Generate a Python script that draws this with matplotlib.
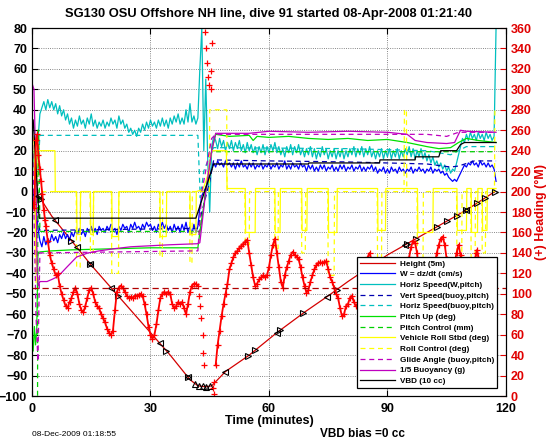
import numpy as np
import matplotlib
matplotlib.use("Agg")
import matplotlib.pyplot as plt

plt.rcParams['font.family'] = ['Liberation Sans', 'DejaVu Sans']

# ---- data (left axis units unless noted) ----
# depth / 5 m
depth_t = [0, 1, 2, 5, 10, 15, 20, 25, 30, 35, 40, 42, 44, 45.5, 47, 49, 55, 62, 69, 75, 80, 90, 100, 110, 117.2]
depth_v = [0, -1, -3, -12, -24, -36, -47, -58, -69, -80, -92, -95, -95.5, -95, -92, -88, -80, -69, -59, -51, -44, -31, -20, -9, 0]
tri_left_t = [1.5, 5.8, 11.3, 14.7, 20.0, 32.4, 39.5, 48.9, 62.0, 74.7, 94.5, 110.0]
tri_right_t = [2.2, 10.0, 14.7, 21.8, 34.0, 39.5, 54.7, 56.5, 62.8, 68.6, 77.2, 95.0, 97.2,
               102.5, 105.0, 107.5, 110.0, 112.7, 114.7, 117.2]
tri_up_t = [41.3, 42.3, 43.2, 44.0, 45.0]

# W = dz/dt, sampled every 0.5 min
w_dive = [0, -2, -6, -18,
          -24, -27, -22, -26, -23, -25, -21, -24, -22, -25, -21, -23, -20, -23, -21, -24, -20,
          -22, -19, -21, -18, -21, -19, -22, -18, -20, -17, -20, -18, -21, -17, -19, -18, -20,
          -17, -19, -16, -19, -18, -21, -17, -19, -16, -18, -17, -20, -16, -18, -15, -18, -17,
          -19, -16, -18, -15, -17, -16, -19, -17, -20, -16, -18, -15, -18, -16, -19, -17, -20,
          -16, -19, -17, -20, -16, -19, -15, -20, -17, -21, -16, -20, -17]
w_climb = [-8, -2, 0, 2, 5, 8, 12, 14,
           12, 15, 13, 14, 12, 15, 13, 14, 12, 14, 11, 14, 12, 15, 12, 13, 11, 14, 12, 14,
           11, 13, 12, 14, 11, 13, 12, 14, 11, 13, 12, 14, 11, 13, 12, 15, 11, 13, 11, 14,
           12, 13, 11, 14, 12, 13, 10, 13, 11, 13, 10, 12, 10, 13, 11, 13, 10, 12, 11, 13,
           10, 12, 10, 13, 11, 13, 10, 12, 11, 13, 10, 12, 11, 13, 10, 12, 10, 12, 11, 13,
           10, 12, 9, 11, 10, 12, 9, 11, 9, 12, 10, 11, 9, 12, 10, 11, 9, 11, 10, 12,
           9, 11, 10, 12, 10, 11, 9, 11, 10, 12, 9, 11, 10, 11, 9, 10, 8, 9, 7, 6,
           5, 6, 5, 7, 9, 11, 13, 12, 14, 13, 15, 13, 14, 12, 15, 13, 14, 12, 14, 12,
           13, 11, 5]

# horizontal speed from W and pitch, every 0.5 min
hs_dive = [5, 20, 8, 25, 38, 41, 44, 40, 45, 41, 44, 40, 43, 38, 42, 37, 40, 35, 38, 33,
           36, 31, 35, 32, 37, 33, 35, 31, 36, 33, 38, 32, 35, 31, 34, 32, 35, 31, 34, 32,
           36, 33, 35, 31, 37, 33, 35, 31, 33, 29, 31, 28, 30, 27, 31, 29, 33, 30, 34, 31,
           35, 32, 34, 31, 35, 32, 36, 32, 35, 31, 36, 33, 37, 34, 38, 33, 36, 33, 40, 34,
           43, 34, 37, 33, 36]
hs_climb = [60, 80, 20, 55, 15, -10, 22, 27,
            25, 21, 26, 22, 25, 20, 24, 21, 25, 20, 24, 21, 25, 20, 23, 19, 24, 20, 23, 19,
            22, 18, 22, 19, 23, 18, 22, 19, 23, 20, 24, 19, 22, 18, 21, 17, 22, 19, 23, 18,
            22, 19, 23, 18, 21, 17, 21, 18, 22, 17, 21, 16, 20, 17, 22, 18, 21, 16, 20, 17,
            21, 16, 20, 17, 21, 16, 20, 17, 21, 18, 22, 17, 21, 18, 22, 17, 21, 18, 22, 17,
            20, 16, 20, 17, 21, 16, 20, 17, 21, 16, 20, 17, 21, 16, 20, 17, 21, 18, 22, 17,
            21, 16, 20, 17, 21, 16, 19, 15, 18, 14, 17, 13, 15, 12, 14, 11, 13, 10, 12, 9,
            11, 10, 14, 18, 22, 26, 24, 28, 25, 29, 26, 28, 25, 29, 26, 28, 25, 29, 26, 28,
            25, 27, 80]

# model (buoyancy, pitch) speeds
vs_buoy_t = [0, 1, 2, 42, 43, 45, 46, 60, 80, 100, 106, 108, 112, 117.5]
vs_buoy_v = [0, -10, -19, -18, -10, 5, 15.5, 15, 14.5, 13.5, 12, 12.5, 15, 15]
hs_buoy_t = [1.5, 2, 42, 42.6, 43.5, 45.5, 46, 80, 100, 106, 110, 117.5]
hs_buoy_v = [10, 27.5, 27.5, -3, 10, 20, 21.5, 21, 20, 18, 22, 22]

# pitch (deg) and pitch control (mm)
pitch_t = [0, 0.3, 0.6, 0.9, 1.2, 1.5, 2, 5, 10, 20, 30, 42, 42.5, 44, 45.5, 46.5, 50, 55, 56,
           57, 60, 65, 70, 75, 80, 85, 90, 95, 100, 103, 106, 108, 110, 113, 117.5]
pitch_v = [-70, -78, -66, -75, -68, -30, -29.5, -29, -28.5, -28, -27.5, -27.5, -20, 0, 20, 28,
           27, 27.5, 25, 27, 26.5, 27, 26, 25.5, 26, 25, 25.5, 24, 22, 21, 21.5, 24, 26, 25, 24]
pctl_t = [0, 1.4, 1.5, 1.7, 2.0, 42, 42.5, 45.5, 46, 117.5]
pctl_v = [-110, -110, 30, 30, -19.5, -19.5, -19.5, 19.5, 19.5, 19.5]

# vehicle roll (deg)
roll_t = [0, 0.5, 0.9, 1.3, 5.8, 5.9, 11.3, 11.4, 12.2, 12.3, 14.8, 14.9, 15.5, 15.6,
          20.2, 20.3, 21.9, 22.0, 32.4, 32.5, 34.0, 34.1, 40.0, 40.1, 41.5, 41.6, 43.3,
          44.5, 45.5, 49.2, 49.4, 54.0, 54.1, 56.5, 56.6, 61.5, 61.6, 62.8, 62.9, 68.3,
          68.4, 69.6, 69.7, 75.0, 75.1, 77.2, 77.3, 87.5, 87.6, 89.5, 89.6, 97.6, 97.7,
          101.5, 101.6, 107.6, 107.7, 110.0, 110.1, 111.2, 111.3, 112.8, 112.9, 114.0,
          114.1, 115.2, 115.3, 117.5]
roll_v = [28, 25, -32, 20, 20, 0, 0, -21, -21, 0, 0, -21, -21, 0,
          0, -22, -22, 0, 0, -22, -22, 0, 0, -21, -21, 0, 1,
          8, 20, 20, 1.5, 1.5, -20, -20, 1.5, 1.5, -20, -20, 1.5, 1.5,
          -19, -19, 1.5, 1.5, -20, -20, 1.5, 1.5, -19, -19, 1.5, 1.5, -20,
          -20, 1.5, 1.5, -19, -19, 1.5, 1.5, -20, -20, 1.5, 1.5,
          -19, -19, 1.5, 1.5]
# roll control (deg)
rctl_t = [0, 0.9, 1.0, 1.1, 11.2, 11.3, 12.2, 12.3, 14.7, 14.8, 15.5, 15.6, 20.1, 20.2,
          21.9, 22.0, 32.3, 32.4, 33.0, 33.1, 39.9, 40.0, 40.5, 40.6, 44.9, 45.0, 49.3,
          49.4, 53.9, 54.0, 55.0, 55.1, 61.4, 61.5, 62.3, 62.4, 68.2, 68.3, 69.2, 69.3,
          74.9, 75.0, 76.5, 76.6, 87.4, 87.5, 88.5, 88.6, 94.2, 94.3, 94.8, 94.9, 97.5,
          97.6, 99.0, 99.1, 107.5, 107.6, 108.8, 108.9, 111.1, 111.2, 112.2, 112.3, 113.9,
          114.0, 114.8, 114.9, 117.1, 117.2, 117.5]
rctl_v = [0, 0, -45, 0, 0, -37, -37, 0, 0, -30, -30, 0, 0, -40,
          -40, 0, 0, -32, -32, 0, 0, -35, -35, 0, 0, 40, 40,
          0, 0, -26, -26, 0, 0, -28, -28, 0, 0, -30, -30, 0,
          0, -41, -41, 0, 0, -35, -35, 0, 0, 40, 40, 0, 0,
          -38, -38, 0, 0, -36, -36, 0, 0, -34, -34, 0, 0,
          -30, -30, 0, 0, 40, 40]

# glide angle (deg) and buoyancy / 5 (g)
glide_t = [0, 1.0, 1.5, 2.0, 42, 43, 45.5, 46.5, 100, 105, 108, 117.5]
glide_v = [40, -60, -83, -30, -29, 0, 26, 28, 28, 27, 29, 29]
buoy_t = [0, 0.5, 1.0, 1.3, 1.6, 2.0, 3.8, 5.0, 6.6, 8.8, 11.3, 14.2, 17, 20.6, 25, 30, 35,
          42, 42.5, 44, 45.5, 46.5, 55, 60, 70, 80, 90, 95, 97, 100, 105, 107, 108.5, 110, 117.5]
buoy_v = [53, 50, 10, -40, -46, -44, -44, -43, -41.5, -37, -32, -30, -29, -28, -27, -26.5, -26,
          -25.5, -25, 0, 20, 28.5, 28.5, 29.5, 29, 29.5, 29, 28, 25, 24, 23.5, 24, 30, 29.5, 29]

# VBD (10 cc)
vbd_t = [0.3, 1.8, 41.5, 46, 70, 70.1, 88, 88.1, 97, 97.1, 103, 103.5, 107.5, 108.5, 109.5, 117.5]
vbd_v = [35, -13, -13, 13.5, 13.5, 14, 14, 15.5, 15.5, 17, 17, 20, 20, 23, 24, 24]

# heading (deg M), right axis
hdg_start_t = [0.0, 0.3, 0.6, 1.0, 1.3, 1.6, 2.0, 2.3, 2.6, 3.0, 3.3]
hdg_start_v = [190, 188, 184, 250, 256, 236, 222, 210, 198, 182, 172]
hdg_dive = [166, 152, 138, 130, 124, 118, 120, 108, 100, 94,
            88, 86, 92, 96, 102, 106, 100, 90, 84, 82,
            88, 96, 104, 106, 100, 92, 88, 86, 80, 76,
            72, 66, 62, 60, 64, 84, 102, 106, 108, 106,
            102, 98, 96, 97, 96, 98, 98, 99, 100, 98,
            90, 80, 68, 60, 56, 60, 70, 84, 96, 100,
            102, 100, 102, 100, 90, 86, 88, 92, 90, 92,
            86, 80, 90, 102, 108, 110, 110, 108]
hdg_turn_t = [42.3, 42.6, 42.9, 43.2, 43.4, 43.6, 43.8, 44.0, 44.3, 44.6, 44.9, 45.2, 45.4,
              45.6, 45.8, 46.0, 46.2]
hdg_turn_v = [98, 88, 76, 60, 42, 30, 356, 340, 326, 312, 304, 300, 318, 345, 8, 2, 14]
hdg_climb = [30, 50, 64, 78, 90, 100, 110, 124, 130, 136, 140, 142, 145, 147, 149, 151, 153,
             140, 128, 116, 108, 110, 114, 116, 118, 116, 118, 126, 138, 148, 154, 140, 126,
             112, 106, 118, 126, 132, 138, 141, 138, 136, 134, 126, 116, 108, 101, 104, 112,
             118, 124, 128, 130, 131, 130, 131, 132, 124, 116, 112, 106, 100, 96, 86, 78, 80,
             88, 90, 96, 98, 92, 88]
hdg_end_t = [83, 84, 84.5, 85, 85.5, 86, 87, 88, 89, 90, 91, 92, 93, 94, 95, 95.5, 96, 96.5,
             97, 97.5, 98, 99, 100, 101, 102, 102.5, 103, 103.5, 104, 104.5, 105, 106, 107,
             107.5, 108, 108.5, 109, 110, 111, 112, 112.5, 112.7, 113, 113.5, 114, 115, 116, 117]
hdg_end_v = [96, 104, 118, 136, 140, 132, 118, 106, 98, 94, 100, 96, 104, 112, 124, 136, 146,
             152, 150, 140, 118, 104, 106, 116, 130, 140, 148, 154, 156, 148, 134, 118, 130,
             140, 148, 138, 122, 106, 118, 132, 140, 143, 136, 120, 104, 96, 104, 110]
hdg_goal = 106

labels = ['Height (5m)', 'W = dz/dt (cm/s)', 'Horiz Speed(W,pitch)', 'Vert Speed(buoy,pitch)',
          'Horiz Speed(buoy,pitch)', 'Pitch Up (deg)', 'Pitch Control (mm)',
          'Vehicle Roll Stbd (deg)', 'Roll Control (deg)', 'Glide Angle (buoy,pitch)',
          '1/5 Buoyancy (g)', 'VBD (10 cc)']

# ---- figure ----
fig = plt.figure(figsize=(5.46, 4.42), dpi=100)
ax = fig.add_axes([0.0586, 0.104, 0.868, 0.8326])

def t_of(t0, vals):
    return t0 + 0.5 * np.arange(len(vals))

w_t = np.concatenate([t_of(0, w_dive), t_of(42.5, w_climb)])
w_v = np.concatenate([w_dive, w_climb])
hs_t = np.concatenate([t_of(0, hs_dive), t_of(42.5, hs_climb)])
hs_v = np.concatenate([hs_dive, hs_climb])

h = []
h += ax.plot(depth_t, depth_v, color='#d40000', lw=0.9)
h += ax.plot(w_t, w_v, color='b', lw=0.9)
h += ax.plot(hs_t, hs_v, color='c', lw=0.9)
h += ax.plot(vs_buoy_t, vs_buoy_v, color='#0000b0', lw=0.9, ls='--', dashes=(4, 3))
h += ax.plot(hs_buoy_t, hs_buoy_v, color='c', lw=0.9, ls='--', dashes=(4, 3))
h += ax.plot(pitch_t, pitch_v, color='#00e000', lw=0.9)
h += ax.plot(pctl_t, pctl_v, color='#00d000', lw=0.9, ls='--', dashes=(4, 3))
h += ax.plot(roll_t, roll_v, color='#ffff00', lw=0.9)
h += ax.plot(rctl_t, rctl_v, color='#ffff00', lw=0.9, ls='--', dashes=(4, 3))
h += ax.plot(glide_t, glide_v, color='m', lw=0.9, ls='--', dashes=(4, 3))
h += ax.plot(buoy_t, buoy_v, color='m', lw=0.9)
h += ax.plot(vbd_t, vbd_v, color='k', lw=0.9)

# sample markers along the depth trace
for tt, mk in [(tri_left_t, '<'), (tri_right_t, '>'), (tri_up_t, '^')]:
    ax.plot(tt, np.interp(tt, depth_t, depth_v), ls='none', marker=mk, ms=4.5,
            mfc='none', mec='k', mew=0.8)

ax.set_xlim(0, 120)
ax.set_ylim(-100, 80)
ax.set_xticks([0, 30, 60, 90, 120])
ax.set_yticks(np.arange(-100, 81, 10))
ax.grid(True, ls=':', color='#606060', lw=0.6)
ax.tick_params(direction='in', length=4, top=True, labelsize=9)
ax.tick_params(axis='x', pad=5)
for lab in ax.get_xticklabels() + ax.get_yticklabels():
    lab.set_fontweight('bold')
ax.set_xlabel('Time (minutes)', fontsize=9, fontweight='bold', labelpad=0)
ax.set_title('SG130 OSU Offshore NH line, dive 91 started 08-Apr-2008 01:21:40',
             fontsize=9.3, fontweight='bold', pad=8)

ax2 = ax.twinx()
# dense "+" trail: each continuous stretch gets a thin line under its markers
dive_t = np.concatenate([hdg_start_t, t_of(3.5, hdg_dive)])
dive_v = np.concatenate([hdg_start_v, hdg_dive])
for tt, vv in [(dive_t, dive_v), (t_of(46.5, hdg_climb), hdg_climb), (hdg_end_t, hdg_end_v)]:
    ax2.plot(tt, vv, color='r', lw=1.3, marker='+', ms=4, mew=0.9)
ax2.plot(hdg_turn_t, hdg_turn_v, ls='none', marker='+', ms=4, mew=0.9, color='r')
ax2.axhline(hdg_goal, color='#b00000', lw=0.9, ls='--', dashes=(5, 3))
ax2.set_ylim(0, 360)
ax2.set_yticks(np.arange(0, 361, 20))
ax2.tick_params(direction='in', length=4, labelsize=9, colors='#e00000')
for lab in ax2.get_yticklabels():
    lab.set_fontweight('bold')
ax2.spines['right'].set_color('k')
ax2.set_ylabel('(+) Heading (\u00b0M)', color='#e00000', fontsize=9, fontweight='bold', labelpad=2)

leg = ax2.legend(h, labels, loc='lower right', bbox_to_anchor=(0.981, 0.022), fontsize=5.9,
                 frameon=True, fancybox=False, framealpha=1, edgecolor='k',
                 handlelength=4.2, handletextpad=0.6, labelspacing=0.36, borderpad=0.35,
                 borderaxespad=0)
leg.get_frame().set_linewidth(0.9)
for t in leg.get_texts():
    t.set_fontweight('bold')

fig.text(32 / 546, 1 - 434 / 442, '08-Dec-2009 01:18:55', fontsize=6, va='center')
fig.text(320 / 546, 1 - 434 / 442, 'VBD bias =0 cc', fontsize=8.5, fontweight='bold', va='center')

fig.savefig('out.png', dpi=100)
